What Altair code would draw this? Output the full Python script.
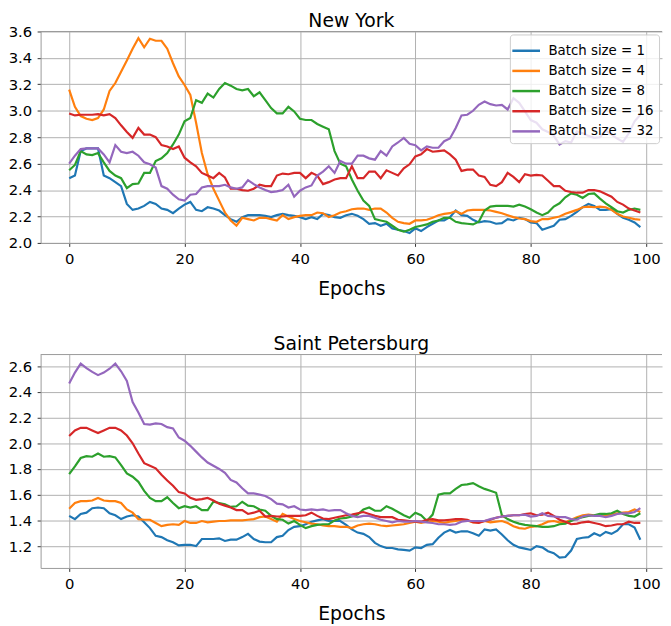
import altair as alt
import pandas as pd

EPOCHS = list(range(100))
LABELS = ["Batch size = 1", "Batch size = 4", "Batch size = 8", "Batch size = 16", "Batch size = 32"]
COLORS = ["#1f77b4", "#ff7f0e", "#2ca02c", "#d62728", "#9467bd"]
X_TICKS = [0, 20, 40, 60, 80, 100]
NY_Y_TICKS = [2.0, 2.2, 2.4, 2.6, 2.8, 3.0, 3.2, 3.4, 3.6]
SP_Y_TICKS = [1.2, 1.4, 1.6, 1.8, 2.0, 2.2, 2.4, 2.6]

NY_B1 = [2.49, 2.51, 2.695, 2.715, 2.715, 2.715, 2.51, 2.49, 2.46, 2.43,
         2.295, 2.25, 2.26, 2.28, 2.31, 2.295, 2.26, 2.25, 2.225, 2.26,
         2.29, 2.31, 2.25, 2.24, 2.27, 2.26, 2.245, 2.21, 2.18, 2.16,
         2.195, 2.21, 2.21, 2.21, 2.205, 2.195, 2.21, 2.22, 2.21, 2.205,
         2.195, 2.18, 2.195, 2.18, 2.22, 2.21, 2.195, 2.19, 2.21, 2.22,
         2.205, 2.18, 2.145, 2.15, 2.13, 2.145, 2.11, 2.10, 2.09, 2.075,
         2.11, 2.09, 2.12, 2.145, 2.17, 2.17, 2.195, 2.245, 2.21, 2.205,
         2.175, 2.155, 2.165, 2.16, 2.145, 2.15, 2.18, 2.17, 2.19, 2.18,
         2.155, 2.15, 2.10, 2.115, 2.13, 2.175, 2.18, 2.205, 2.235, 2.27,
         2.295, 2.28, 2.25, 2.25, 2.255, 2.22, 2.19, 2.175, 2.155, 2.12]
NY_B4 = [3.16, 3.03, 2.96, 2.94, 2.93, 2.945, 3.01, 3.15, 3.21, 3.295,
         3.38, 3.47, 3.55, 3.48, 3.545, 3.53, 3.53, 3.47, 3.36, 3.26,
         3.195, 3.12, 2.91, 2.68, 2.52, 2.41, 2.32, 2.23, 2.17, 2.13,
         2.19, 2.18, 2.17, 2.19, 2.19, 2.18, 2.17, 2.21, 2.18, 2.195,
         2.205, 2.21, 2.21, 2.23, 2.225, 2.195, 2.21, 2.23, 2.24, 2.255,
         2.26, 2.26, 2.25, 2.26, 2.26, 2.23, 2.19, 2.16, 2.15, 2.145,
         2.17, 2.17, 2.175, 2.19, 2.21, 2.22, 2.225, 2.24, 2.22, 2.245,
         2.25, 2.25, 2.25, 2.245, 2.235, 2.225, 2.21, 2.195, 2.185, 2.18,
         2.165, 2.16, 2.18, 2.18, 2.19, 2.20, 2.22, 2.235, 2.25, 2.27,
         2.275, 2.27, 2.275, 2.27, 2.25, 2.22, 2.20, 2.19, 2.18, 2.175]
NY_B8 = [2.55, 2.59, 2.695, 2.67, 2.665, 2.68, 2.61, 2.545, 2.51, 2.49,
         2.415, 2.445, 2.45, 2.53, 2.53, 2.62, 2.64, 2.68, 2.745, 2.82,
         2.92, 2.945, 3.08, 3.06, 3.13, 3.10, 3.165, 3.21, 3.19, 3.165,
         3.155, 3.165, 3.11, 3.14, 3.08, 3.02, 2.98, 2.98, 3.03, 2.995,
         2.94, 2.93, 2.93, 2.90, 2.88, 2.86, 2.695, 2.60, 2.58, 2.48,
         2.395, 2.32, 2.28, 2.18, 2.17, 2.16, 2.13, 2.10, 2.085, 2.10,
         2.12, 2.13, 2.14, 2.16, 2.17, 2.19, 2.19, 2.16, 2.15, 2.145,
         2.14, 2.16, 2.245, 2.275, 2.28, 2.28, 2.28, 2.275, 2.29, 2.275,
         2.255, 2.23, 2.21, 2.23, 2.275, 2.30, 2.345, 2.375, 2.365, 2.34,
         2.37, 2.375, 2.335, 2.30, 2.27, 2.24, 2.23, 2.25, 2.26, 2.25]
NY_B16 = [2.98, 2.965, 2.97, 2.97, 2.97, 2.975, 2.965, 2.975, 2.945, 2.89,
          2.84, 2.795, 2.87, 2.82, 2.82, 2.80, 2.74, 2.73, 2.71, 2.73,
          2.645, 2.61, 2.58, 2.53, 2.51, 2.49, 2.53, 2.495, 2.41, 2.41,
          2.40, 2.395, 2.41, 2.44, 2.43, 2.43, 2.51, 2.525, 2.52, 2.53,
          2.53, 2.49, 2.53, 2.51, 2.445, 2.46, 2.48, 2.49, 2.49, 2.58,
          2.49, 2.49, 2.54, 2.54, 2.49, 2.55, 2.53, 2.51, 2.565, 2.595,
          2.655, 2.67, 2.71, 2.69, 2.695, 2.70, 2.67, 2.63, 2.545, 2.555,
          2.555, 2.51, 2.50, 2.44, 2.43, 2.46, 2.53, 2.50, 2.46, 2.52,
          2.51, 2.515, 2.51, 2.47, 2.43, 2.43, 2.395, 2.385, 2.38, 2.38,
          2.40, 2.40, 2.39, 2.37, 2.35, 2.31, 2.29, 2.26, 2.245, 2.23]
NY_B32 = [2.60, 2.66, 2.71, 2.715, 2.715, 2.715, 2.67, 2.61, 2.74, 2.69,
          2.68, 2.69, 2.66, 2.61, 2.595, 2.57, 2.43, 2.41, 2.365, 2.33,
          2.32, 2.365, 2.37, 2.42, 2.43, 2.43, 2.43, 2.44, 2.42, 2.41,
          2.42, 2.475, 2.445, 2.42, 2.40, 2.385, 2.39, 2.40, 2.44, 2.35,
          2.395, 2.42, 2.435, 2.51, 2.54, 2.58, 2.53, 2.62, 2.60, 2.60,
          2.66, 2.66, 2.64, 2.63, 2.695, 2.66, 2.73, 2.76, 2.795, 2.75,
          2.74, 2.70, 2.73, 2.72, 2.72, 2.77, 2.79, 2.87, 2.965, 2.97,
          3.00, 3.045, 3.07, 3.05, 3.04, 3.045, 3.01, 3.095, 3.06, 2.995,
          2.93, 2.91, 2.86, 2.84, 2.81, 2.745, 2.77, 2.76, 2.845, 2.83,
          2.81, 2.795, 2.80, 2.85, 2.82, 2.79, 2.765, 2.83, 2.92, 2.97]

SP_B1 = [1.435, 1.41, 1.45, 1.46, 1.495, 1.50, 1.495, 1.455, 1.44, 1.41,
         1.43, 1.44, 1.43, 1.385, 1.34, 1.28, 1.27, 1.245, 1.23, 1.205,
         1.21, 1.21, 1.20, 1.255, 1.255, 1.255, 1.26, 1.24, 1.25, 1.25,
         1.27, 1.295, 1.255, 1.235, 1.23, 1.23, 1.27, 1.28, 1.325, 1.35,
         1.355, 1.37, 1.39, 1.40, 1.41, 1.395, 1.395, 1.395, 1.365, 1.33,
         1.305, 1.295, 1.27, 1.225, 1.20, 1.185, 1.185, 1.175, 1.17, 1.165,
         1.19, 1.185, 1.21, 1.215, 1.265, 1.305, 1.325, 1.305, 1.315, 1.315,
         1.30, 1.28, 1.33, 1.32, 1.33, 1.29, 1.245, 1.21, 1.19, 1.18,
         1.17, 1.20, 1.19, 1.16, 1.145, 1.11, 1.115, 1.165, 1.255, 1.265,
         1.27, 1.30, 1.28, 1.31, 1.295, 1.32, 1.37, 1.37, 1.345, 1.25]
SP_B4 = [1.49, 1.535, 1.55, 1.55, 1.555, 1.575, 1.555, 1.55, 1.55, 1.535,
         1.485, 1.46, 1.41, 1.405, 1.405, 1.38, 1.355, 1.365, 1.37, 1.365,
         1.395, 1.38, 1.38, 1.395, 1.385, 1.39, 1.395, 1.395, 1.40, 1.40,
         1.40, 1.405, 1.41, 1.425, 1.43, 1.41, 1.39, 1.45, 1.43, 1.41,
         1.395, 1.385, 1.375, 1.37, 1.36, 1.355, 1.355, 1.35, 1.35, 1.34,
         1.36, 1.37, 1.375, 1.37, 1.36, 1.355, 1.36, 1.365, 1.37, 1.38,
         1.39, 1.38, 1.39, 1.395, 1.39, 1.38, 1.39, 1.395, 1.405, 1.40,
         1.385, 1.385, 1.395, 1.385, 1.39, 1.395, 1.38, 1.355, 1.34, 1.335,
         1.35, 1.355, 1.37, 1.39, 1.395, 1.385, 1.385, 1.405, 1.425, 1.44,
         1.445, 1.44, 1.44, 1.44, 1.445, 1.455, 1.46, 1.465, 1.485, 1.465]
SP_B8 = [1.76, 1.82, 1.885, 1.90, 1.895, 1.92, 1.895, 1.90, 1.89, 1.83,
         1.765, 1.74, 1.70, 1.63, 1.575, 1.55, 1.55, 1.58, 1.535, 1.495,
         1.51, 1.50, 1.51, 1.48, 1.48, 1.545, 1.535, 1.525, 1.505, 1.51,
         1.545, 1.515, 1.51, 1.485, 1.475, 1.435, 1.41, 1.405, 1.375, 1.395,
         1.365, 1.34, 1.355, 1.365, 1.37, 1.37, 1.40, 1.415, 1.42, 1.43,
         1.445, 1.485, 1.50, 1.475, 1.475, 1.51, 1.49, 1.465, 1.44, 1.42,
         1.46, 1.44, 1.395, 1.445, 1.60, 1.61, 1.61, 1.645, 1.675, 1.68,
         1.69, 1.665, 1.645, 1.63, 1.615, 1.44, 1.41, 1.39, 1.375, 1.365,
         1.36, 1.355, 1.35, 1.35, 1.355, 1.37, 1.375, 1.395, 1.415, 1.425,
         1.435, 1.44, 1.45, 1.45, 1.455, 1.475, 1.45, 1.435, 1.43, 1.455]
SP_B16 = [2.057, 2.10, 2.12, 2.12, 2.10, 2.08, 2.10, 2.12, 2.12, 2.10,
          2.06, 2.00, 1.92, 1.845, 1.825, 1.805, 1.755, 1.71, 1.67, 1.62,
          1.61, 1.575, 1.56, 1.565, 1.575, 1.555, 1.53, 1.515, 1.50, 1.48,
          1.48, 1.45, 1.46, 1.475, 1.43, 1.435, 1.43, 1.43, 1.435, 1.435,
          1.435, 1.44, 1.46, 1.435, 1.415, 1.41, 1.42, 1.43, 1.44, 1.445,
          1.455, 1.465, 1.45, 1.435, 1.425, 1.425, 1.425, 1.405, 1.40, 1.395,
          1.39, 1.39, 1.405, 1.41, 1.40, 1.40, 1.405, 1.41, 1.41, 1.405,
          1.385, 1.38, 1.395, 1.405, 1.42, 1.43, 1.435, 1.44, 1.44, 1.45,
          1.455, 1.44, 1.445, 1.46, 1.435, 1.405, 1.39, 1.37, 1.375, 1.385,
          1.39, 1.38, 1.37, 1.355, 1.36, 1.37, 1.37, 1.39, 1.38, 1.38]
SP_B32 = [2.465, 2.55, 2.62, 2.585, 2.555, 2.53, 2.55, 2.58, 2.62, 2.56,
          2.485, 2.32, 2.24, 2.15, 2.145, 2.155, 2.15, 2.125, 2.115, 2.045,
          2.02, 1.98, 1.935, 1.89, 1.85, 1.825, 1.80, 1.77, 1.715, 1.695,
          1.65, 1.61, 1.61, 1.60, 1.59, 1.565, 1.53, 1.525, 1.50, 1.51,
          1.485, 1.48, 1.485, 1.48, 1.485, 1.475, 1.48, 1.48, 1.455, 1.435,
          1.425, 1.435, 1.435, 1.42, 1.405, 1.395, 1.385, 1.395, 1.39, 1.39,
          1.395, 1.39, 1.385, 1.38, 1.37, 1.37, 1.365, 1.37, 1.39, 1.395,
          1.395, 1.395, 1.395, 1.41, 1.42, 1.43, 1.435, 1.44, 1.44, 1.445,
          1.43, 1.435, 1.455, 1.435, 1.43, 1.425, 1.425, 1.41, 1.405, 1.43,
          1.44, 1.435, 1.435, 1.425, 1.435, 1.45, 1.455, 1.455, 1.465, 1.495]

W = 629
X_DOMAIN = [-4.95, -4.95 + W / 5.84]
FONT = "DejaVu Sans"
GRID = "#b0b0b0"


def long_df(series):
    rows = []
    for lab, vals in zip(LABELS, series):
        for e, v in zip(EPOCHS, vals):
            rows.append({"epoch": e, "value": v, "series": lab})
    return pd.DataFrame(rows)


def panel(series, title, ydomain, yticks, height, title_offset):
    df = long_df(series)
    lines = alt.Chart(df).mark_line(strokeWidth=2.2, clip=True).encode(
        x=alt.X("epoch:Q",
                scale=alt.Scale(domain=X_DOMAIN, nice=False, zero=False),
                axis=alt.Axis(values=X_TICKS, format="d", title="Epochs")),
        y=alt.Y("value:Q",
                scale=alt.Scale(domain=ydomain, nice=False, zero=False),
                axis=alt.Axis(values=yticks, format=".1f", title=None)),
        color=alt.Color("series:N",
                        scale=alt.Scale(domain=LABELS, range=COLORS),
                        legend=alt.Legend(
                            title=None, orient="top-right", offset=3,
                            labelFontSize=13.5, labelFont=FONT, labelColor="#000",
                            symbolType="M-1.4,0L1.4,0", symbolSize=400,
                            symbolStrokeWidth=2.5, labelOffset=11, rowPadding=2.4,
                            fillColor="rgba(255,255,255,0.8)", strokeColor="#cccccc",
                            cornerRadius=3, padding=5, labelLimit=300)),
    )
    top = alt.Chart(pd.DataFrame({"k": [0]})).mark_rule(color="#999999", strokeWidth=1).encode(
        x=alt.value(0), x2=alt.value(W), y=alt.value(0)
    )
    return alt.layer(lines, top).properties(
        width=W, height=height,
        title=alt.TitleParams(title, fontSize=19, fontWeight="normal", font=FONT,
                              color="#000", anchor="middle", frame="group",
                              offset=title_offset),
    )


ny = panel([NY_B1, NY_B4, NY_B8, NY_B16, NY_B32], "New York", [2.0, 3.6], NY_Y_TICKS, 214, -6)
sp = panel([SP_B1, SP_B4, SP_B8, SP_B16, SP_B32], "Saint Petersburg", [1.03, 2.69], SP_Y_TICKS, 216, 0)

chart = alt.vconcat(ny, sp, spacing=36).properties(
    padding={"left": 0, "top": 0, "right": 0, "bottom": 0}
).configure(font=FONT).configure_view(stroke=None).configure_axis(
    labelFont=FONT, titleFont=FONT, labelFontSize=15, titleFontSize=19,
    titleFontWeight="normal", labelColor="#000", titleColor="#000",
    gridColor=GRID, gridWidth=1, domainColor="#999999", tickColor="#333333",
    tickSize=3.5, labelPadding=5.5, titlePadding=13.5,
)

chart.save("out.html", embed_options={"renderer": "svg", "actions": False})
